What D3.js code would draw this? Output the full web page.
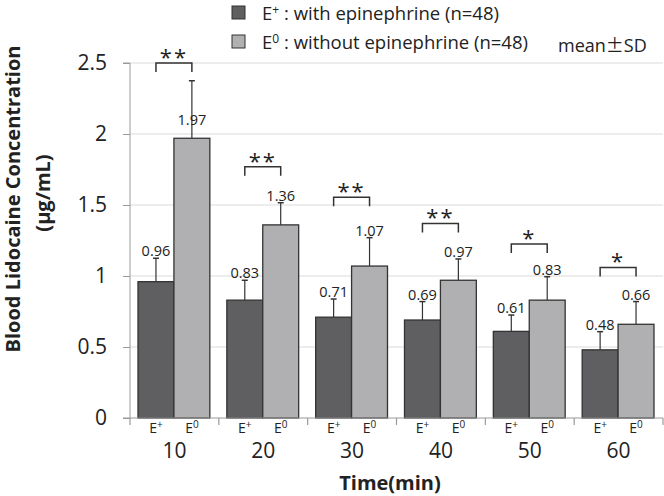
<!DOCTYPE html>
<html><head><meta charset="utf-8">
<script src="https://cdn.jsdelivr.net/npm/d3@7"></script>
<style>body{margin:0;background:#fff}svg{display:block}text{font-family:"Open Sans",sans-serif;fill:#222}</style>
</head><body><svg id="c" width="664" height="496"></svg>
<script>
const times = ["10","20","30","40","50","60"];
const groups = ["E+","E0"];
const withEpi = [0.96,0.83,0.71,0.69,0.61,0.48];
const withoutEpi = [1.97,1.36,1.07,0.97,0.83,0.66];
const sdWith = [0.165,0.14,0.128,0.13,0.115,0.128];
const sdWithout = [0.405,0.156,0.20,0.15,0.165,0.16];
const sigStars = ["**","**","**","**","*","*"];
const bracketLevel = [2.5,1.77,1.555,1.37,1.225,1.06];
const yTicks = [0,0.5,1,1.5,2,2.5];

(function(){
const svg = d3.select("#c");
const pL=130, pR=663, pT=63, pB=418;
const x0 = d3.scaleBand().domain(times).range([pL,pR]).paddingInner(0).paddingOuter(0);
const x1 = d3.scaleBand().domain(groups).range([8,x0.bandwidth()-9]);
const y = d3.scaleLinear().domain([0,2.5]).range([pB,pT]);
const colors = {"E+":"#5f5f61","E0":"#b0b0b3"};

svg.append("g").selectAll("line").data(yTicks.filter(d=>d>0)).join("line")
  .attr("x1",pL).attr("x2",pR).attr("y1",d=>y(d)).attr("y2",d=>y(d))
  .attr("stroke","#dcdcdc").attr("stroke-width",1.2);

const ya = svg.append("g").attr("transform",`translate(${pL},0)`)
  .call(d3.axisLeft(y).tickValues(yTicks).tickFormat(d=>String(d)).tickSize(7).tickPadding(16));
ya.select(".domain").attr("stroke","#9a9a9a").attr("d",`M-7,${y(2.5)}H0V${pB}`);
ya.selectAll(".tick line").attr("stroke","#9a9a9a");
ya.selectAll(".tick text").style("font-size","21px").style("font-family","'Open Sans',sans-serif").attr("fill","#222");

const rows = times.map((t,i)=>[
  {t, g:"E+", v:withEpi[i], sd:sdWith[i]},
  {t, g:"E0", v:withoutEpi[i], sd:sdWithout[i]}]).flat();
const cx = d=>x0(d.t)+x1(d.g)+x1.bandwidth()/2;

const gB = svg.append("g");
gB.selectAll("line.err").data(rows).join("line").attr("class","err")
  .attr("x1",cx).attr("x2",cx)
  .attr("y1",d=>y(d.v)).attr("y2",d=>y(d.v+d.sd)).attr("stroke","#333").attr("stroke-width",1.2);
gB.selectAll("line.cap").data(rows).join("line").attr("class","cap")
  .attr("x1",d=>cx(d)-3).attr("x2",d=>cx(d)+3)
  .attr("y1",d=>y(d.v+d.sd)).attr("y2",d=>y(d.v+d.sd)).attr("stroke","#333").attr("stroke-width",1.5);
gB.selectAll("rect").data(rows).join("rect")
  .attr("x",d=>x0(d.t)+x1(d.g)).attr("width",x1.bandwidth())
  .attr("y",d=>y(d.v)).attr("height",d=>y(0)-y(d.v))
  .attr("fill",d=>colors[d.g]).attr("stroke","#333").attr("stroke-width",1.3);
gB.selectAll("text.val").data(rows).join("text").attr("class","val")
  .attr("x",cx)
  .attr("y",d=>(d.v+d.sd>2.2 ? y(d.v)-13 : y(d.v+d.sd)-2))
  .attr("text-anchor","middle").style("font-size","14.5px").text(d=>d.v.toFixed(2));

const xa = svg.append("g");
xa.append("line").attr("x1",pL-7).attr("x2",pR).attr("y1",pB).attr("y2",pB).attr("stroke","#9a9a9a").attr("stroke-width",1.2);
xa.selectAll("line.tk").data(times.concat(["end"])).join("line").attr("class","tk")
  .attr("x1",d=>d==="end"?pR:x0(d)).attr("x2",d=>d==="end"?pR:x0(d))
  .attr("y1",pB).attr("y2",pB+7).attr("stroke","#9a9a9a").attr("stroke-width",1.2);
const sub = xa.selectAll("text.sub").data(rows).join("text").attr("class","sub")
  .attr("x",cx).attr("y",pB+15)
  .attr("text-anchor","middle").style("font-size","14px");
sub.append("tspan").text("E");
sub.append("tspan").attr("dy",-5).style("font-size","10px").text(d=>d.g==="E+"?"+":"0");
xa.selectAll("text.tm").data(times).join("text").attr("class","tm")
  .attr("x",d=>x0(d)+x0.bandwidth()/2).attr("y",pB+40)
  .attr("text-anchor","middle").style("font-size","21px").text(d=>d);

const br = svg.append("g");
times.forEach((t,i)=>{
  const xa_ = x0(t)+x1("E+")+x1.bandwidth()/2, xb = x0(t)+x1("E0")+x1.bandwidth()/2;
  const yb = y(bracketLevel[i]);
  br.append("path").attr("d",`M${xa_},${yb+9}V${yb}H${xb}V${yb+9}`)
    .attr("fill","none").attr("stroke","#333").attr("stroke-width",1.5);
  br.append("text").attr("x",(xa_+xb)/2).attr("y",yb+2).attr("text-anchor","middle")
    .style("font-size","22px").style("letter-spacing","2px").text(sigStars[i]);
});

svg.append("text").attr("transform",`translate(20,199) rotate(-90)`).attr("text-anchor","middle")
  .style("font-weight","bold").style("font-size","20px").text("Blood Lidocaine Concentration");
svg.append("text").attr("transform",`translate(50,193) rotate(-90)`).attr("text-anchor","middle")
  .style("font-weight","bold").style("font-size","20px").text("(μg/mL)");
svg.append("text").attr("x",390).attr("y",490).attr("text-anchor","middle")
  .style("font-weight","bold").style("font-size","20px").text("Time(min)");

const legend = [{g:"E+",sup:"+",label:" : with epinephrine (n=48)"},{g:"E0",sup:"0",label:" : without epinephrine (n=48)"}];
legend.forEach((d,i)=>{
  const ly = 6 + i*29;
  svg.append("rect").attr("x",232).attr("y",ly).attr("width",13).attr("height",13)
    .attr("fill",colors[d.g]).attr("stroke","#333").attr("stroke-width",1);
  const t = svg.append("text").attr("x",262).attr("y",ly+13.5).style("font-size","18.5px");
  t.append("tspan").text("E");
  t.append("tspan").attr("dy",-6).style("font-size","12px").text(d.sup);
  t.append("tspan").attr("dy",6).text(d.label);
});
const ms = svg.append("text").attr("x",558).attr("y",52).style("font-size","18px");
ms.append("tspan").text("mean");
ms.append("tspan").style("font-family","'Noto Sans CJK JP',sans-serif").text("\u00B1");
ms.append("tspan").text("SD");
})();
</script></body></html>
